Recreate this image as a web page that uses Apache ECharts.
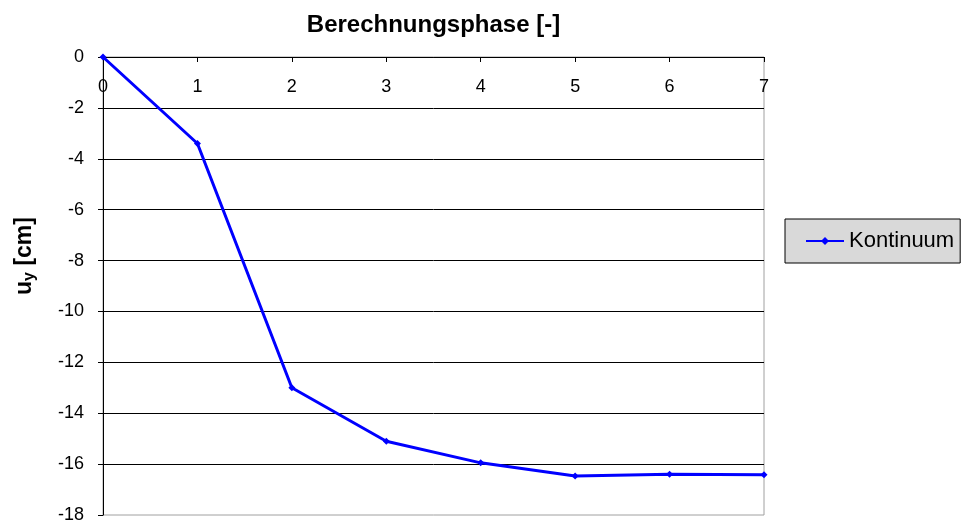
<!DOCTYPE html>
<html><head><meta charset="utf-8">
<script src="https://cdn.jsdelivr.net/npm/echarts@6/dist/echarts.min.js"></script>
<style>html,body{margin:0;padding:0;background:#fff}#c{width:967px;height:522px}</style>
</head><body><div id="c"></div>
<script>
const phases = [0, 1, 2, 3, 4, 5, 6, 7];
const uy = [0, -3.4, -13.0, -15.1, -15.95, -16.47, -16.4, -16.42];
const seriesName = 'Kontinuum';
const xTitle = 'Berechnungsphase [-]';

const chart = echarts.init(document.getElementById('c'));
const font = 'Liberation Sans, Arial, sans-serif';
chart.setOption({
  backgroundColor: '#fff',
  animation: false,
  grid: { left: 103, right: 203, top: 57, bottom: 7, outerBoundsMode: 'none', containLabel: false, show: true, borderColor: '#a0a0a0', borderWidth: 1, backgroundColor: '#fff' },
  xAxis: {
    type: 'value', position: 'top', min: 0, max: 7, interval: 1,
    name: xTitle, nameLocation: 'middle', nameGap: 20,
    nameTextStyle: { fontFamily: font, fontWeight: 'bold', fontSize: 24, color: '#000' },
    axisLine: { show: true, onZero: false, lineStyle: { color: '#000', width: 1 } },
    axisTick: { show: true, inside: true, length: 5, lineStyle: { color: '#000' } },
    axisLabel: { inside: true, margin: 21, fontFamily: font, fontSize: 18, color: '#000' },
    splitLine: { show: false }
  },
  yAxis: {
    type: 'value', min: -18, max: 0, interval: 2,
    name: '{a|u}{b|y}{a| [cm]}', nameLocation: 'middle', nameGap: 65, nameRotate: 90,
    nameTextStyle: { padding: [0, 0, 0, 60], rich: {
      a: { fontFamily: font, fontWeight: 'bold', fontSize: 23, color: '#000' },
      b: { fontFamily: font, fontWeight: 'bold', fontSize: 16, color: '#000', padding: [10, 0, 0, 0] }
    } },
    axisLine: { show: true, onZero: false, lineStyle: { color: '#000', width: 1 } },
    axisTick: { show: true, inside: false, length: 5, lineStyle: { color: '#000' } },
    axisLabel: { margin: 19, fontFamily: font, fontSize: 18, color: '#000' },
    splitLine: { show: true, showMinLine: false, lineStyle: { color: '#000', width: 1 } }
  },
  legend: {
    orient: 'vertical', left: 785, top: 219, data: [seriesName],
    backgroundColor: '#d9d9d9', borderColor: '#000', borderWidth: 1,
    padding: [11, 6, 11, 20], itemWidth: 38, itemHeight: 10, itemGap: 0,
    textStyle: { fontFamily: font, fontSize: 22, color: '#000' }
  },
  series: [{
    name: seriesName, type: 'line',
    data: phases.map((p, i) => [p, uy[i]]),
    lineStyle: { color: '#0000ff', width: 3 },
    itemStyle: { color: '#0000ff' },
    symbol: 'diamond', symbolSize: 7, showSymbol: true,
    clip: false
  }]
});
</script></body></html>
